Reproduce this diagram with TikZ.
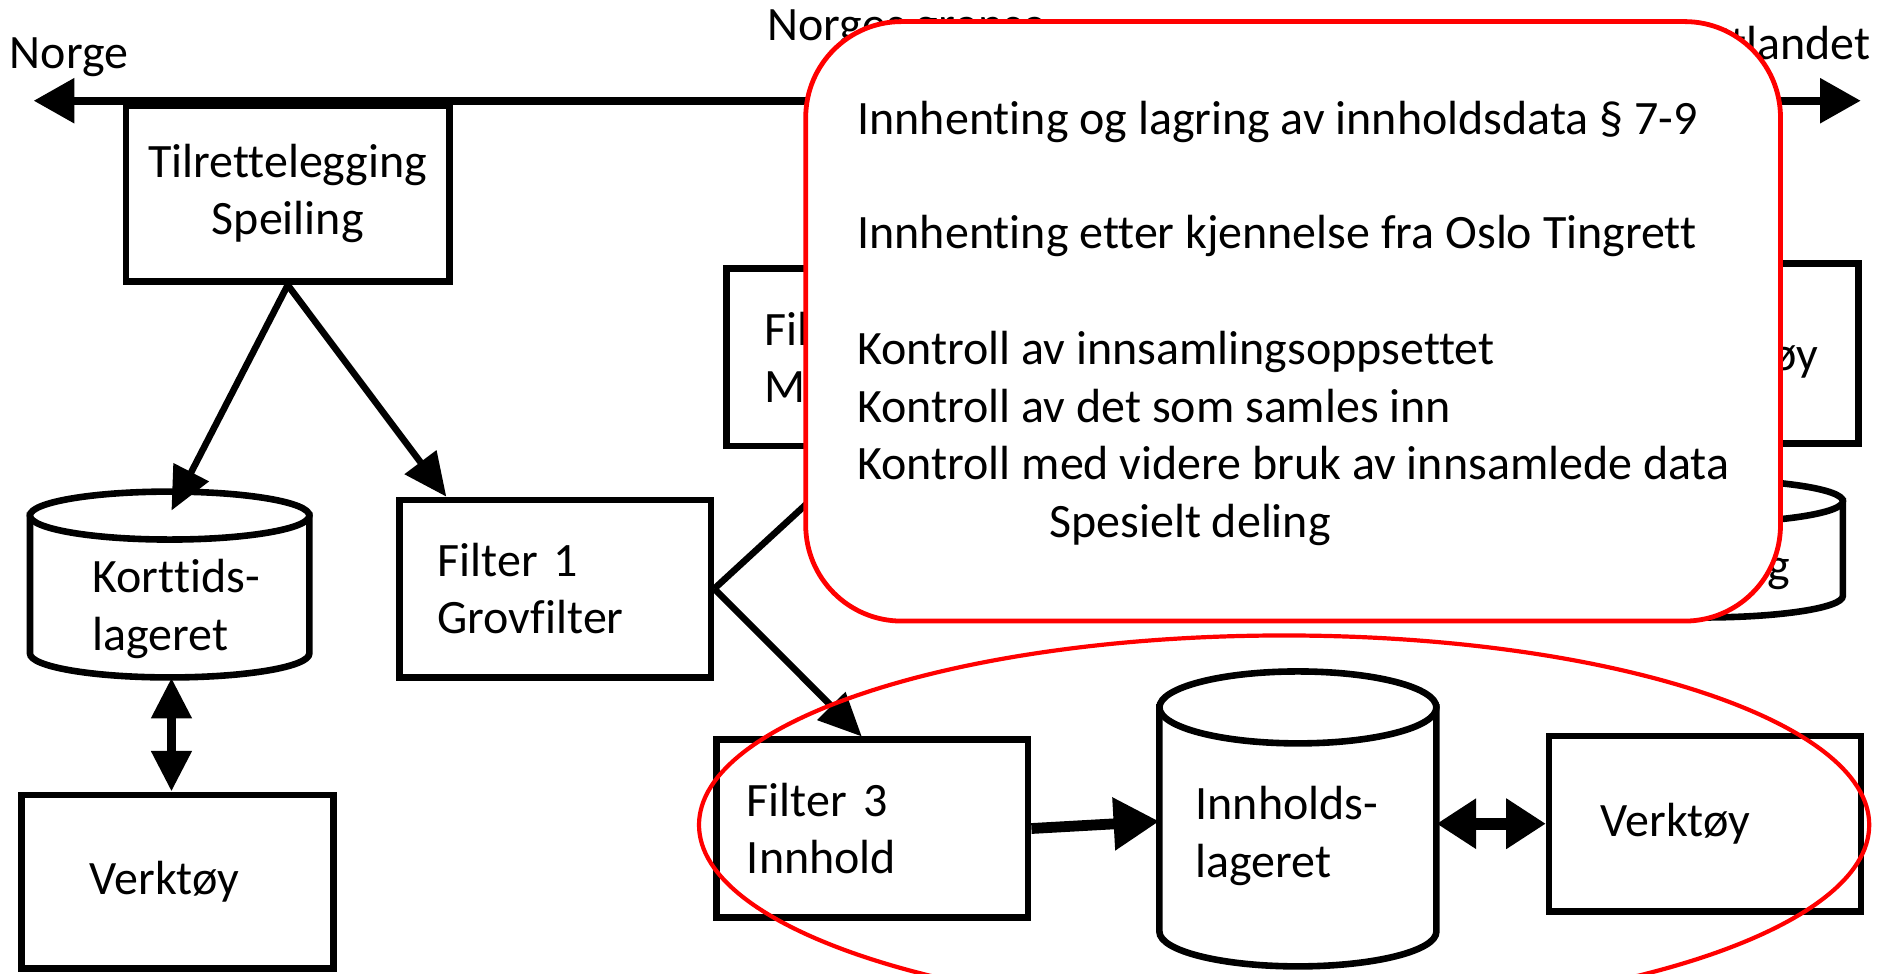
\documentclass[tikz,border=0pt]{standalone}
\usepackage{fontspec}
\setmainfont{Carlito}[Ligatures={NoCommon}]
\usetikzlibrary{arrows.meta}
\begin{document}
\begin{tikzpicture}[x=1pt,y=-1pt,
  txt/.style={font=\fontsize{40}{48}\selectfont, inner sep=0pt},
  box/.style={draw, line width=5.5pt, inner sep=0pt, minimum width=260pt, minimum height=148pt, fill=white, font=\fontsize{40}{48}\selectfont},
  cyl/.style={draw, line width=5.5pt, fill=white},
  arr/.style={line width=5.5pt, -{Triangle[length=36pt,width=32pt]}},
  darr/.style={line width=8pt, {Triangle[length=34pt,width=32pt]}-{Triangle[length=34pt,width=32pt]}},
  mainarr/.style={line width=7pt, {Triangle[length=34pt,width=36pt]}-{Triangle[length=34pt,width=36pt]}},
  redbox/.style={draw=red, line width=4pt, fill=white, rounded corners=80pt, inner sep=0pt},
]
\useasboundingbox (0,0) rectangle (1568,812);

% top border line
\coordinate (L) at (28,84);
\coordinate (R) at (1552,84);
\draw[mainarr] (L) -- (R);
\node[txt, anchor=base west] (norge) at (8,57) {Norge};
\node[txt, anchor=base west] (grense) at (640,34) {Norges grense};
\node[txt, anchor=base east] (utland) at (1560,50) {Utlandet};

% boxes
\node[box, minimum width=270pt, minimum height=147pt, align=center] (tril) at (240,161.5) {Tilrettelegging\\Speiling};
\node[box, text width=196pt, align=left] (f1) at (463,491) {Filter 1\\Grovfilter};
\node[box, text width=196pt, align=left] (f2) at (736,298) {Fil\\M};
\node[box, minimum height=150pt] (vtr) at (1420,295) {};
\node[txt, anchor=base east] (vtrt) at (1517,309) {Verktøy};
\node[box, text width=209pt, align=left] (f3) at (727.5,691) {Filter 3\\Innhold};
\node[box, minimum height=146pt, text width=174pt, align=left] (vr) at (1422,687) {Verktøy};
\node[box, minimum height=145pt, text width=146pt, align=left] (vl) at (148,735.5) {Verktøy};

% Korttidslageret cylinder
\node[minimum width=233pt, minimum height=155pt, inner sep=0pt] (kort) at (141.5,487.5) {};
\path[cyl] (25,430) -- (25,545) arc[start angle=180, end angle=0, x radius=116.5, y radius=20] -- (258,430) -- cycle;
\draw[line width=5.5pt, fill=white] (141.5,430) ellipse[x radius=116.5, y radius=20];
\node[txt, anchor=west, align=left] (kortt) at (77,508) {Korttids-\\lageret};

% right cylinder
\node[minimum width=233pt, minimum height=115pt, inner sep=0pt] (meta) at (1420.5,457.5) {};
\path[cyl] (1304,418) -- (1304,497) arc[start angle=180, end angle=0, x radius=116.5, y radius=18] -- (1537,418) -- cycle;
\draw[line width=5.5pt, fill=white] (1420.5,418) ellipse[x radius=116.5, y radius=18];
\node[txt, anchor=base east] (metat) at (1493,485) {Lagring};

% Innholdslageret cylinder
\node[minimum width=231pt, minimum height=246pt, inner sep=0pt] (inn) at (1082.5,683) {};
\path[cyl] (967,590) -- (967,777) arc[start angle=180, end angle=0, x radius=115.5, y radius=29] -- (1198,590) -- cycle;
\draw[line width=5.5pt, fill=white] (1082.5,590) ellipse[x radius=115.5, y radius=30];
\node[txt, anchor=west, align=left] (innt) at (997,697) {Innholds-\\lageret};

% connectors
\draw[arr] (tril.south) -- ([xshift=1.5pt,yshift=-16pt]kort.north);
\draw[arr] (tril.south) -- ([xshift=42pt]f1.north west);
\draw[arr] (f1.east) -- ([xshift=119pt]f2.south west);
\draw[arr] (f1.east) -- ([xshift=124pt]f3.north west);
\draw[line width=9pt, -{Triangle[length=38pt,width=42pt]}] (f3.east) -- ([yshift=-2pt]inn.west);
\draw[line width=10pt, {Triangle[length=33pt,width=40pt]}-{Triangle[length=33pt,width=40pt]}] (inn.east |- vr.west) -- (vr.west);
\draw[darr] ([xshift=1.5pt]kort.south) -- ([xshift=1.5pt]kort.south |- vl.north);

% red box with text
\node[redbox, minimum width=813pt, minimum height=500pt] (kontroll) at (1078.5,268) {};
\node[txt, anchor=base west] (k1) at (715,112) {Innhenting og lagring av innholdsdata § 7-9};
\node[txt, anchor=base west] (k2) at (715,207) {Innhenting etter kjennelse fra Oslo Tingrett};
\node[txt, anchor=base west] (k3) at (715,304) {Kontroll av innsamlingsoppsettet};
\node[txt, anchor=base west] (k4) at (715,352) {Kontroll av det som samles inn};
\node[txt, anchor=base west] (k5) at (715,400) {Kontroll med videre bruk av innsamlede data};
\node[txt, anchor=base west] (k6) at (875,448) {Spesielt deling};

% red ellipse
\draw[red, line width=3.5pt] (1071,688) ellipse[x radius=488, y radius=158];
\end{tikzpicture}
\end{document}
